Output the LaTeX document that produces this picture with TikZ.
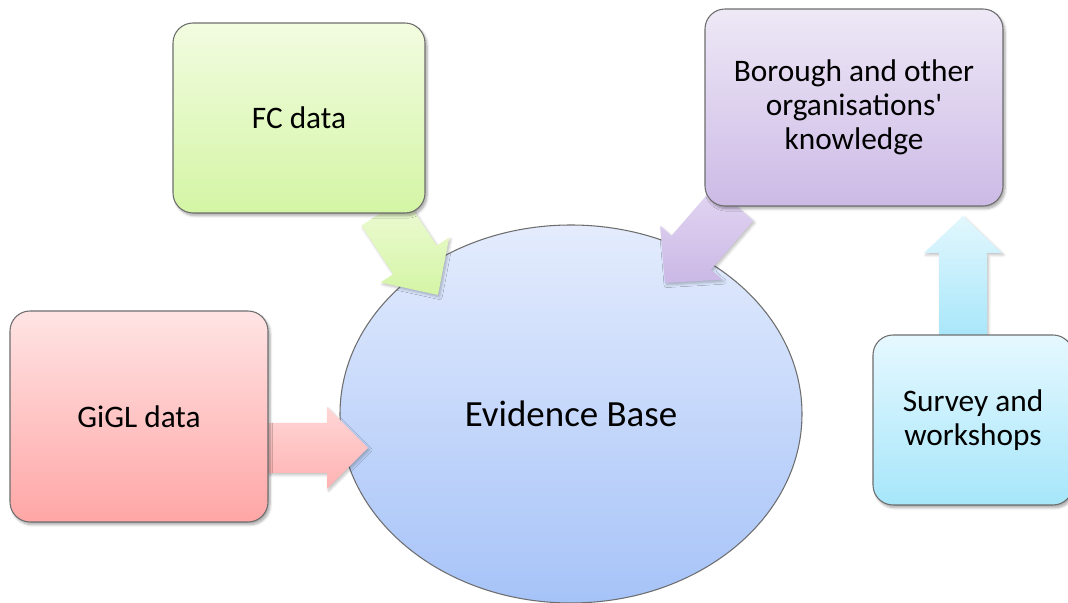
\documentclass[tikz,border=0pt]{standalone}
\usepackage{fontspec}
\setmainfont{Carlito}
\usetikzlibrary{shapes.geometric,shadows.blur}
\definecolor{edgegray}{HTML}{6E6E6E}
\newcommand\blockarr[7]{%
  \begin{scope}[shift={(#1)}, rotate=#2]
    \shade[#7] (0,0) -- (-#4,#5) -- (-#4,#6) -- (-#3,#6) -- (-#3,-#6) -- (-#4,-#6) -- (-#4,-#5) -- cycle;
  \end{scope}}
\tikzset{
  boxnode/.style={rectangle, rounded corners=15pt, draw=edgegray, line width=0.8pt,
    align=center, inner sep=0pt, font=\fontsize{23.5}{25.5}\selectfont,
    blur shadow={shadow xshift=1.5pt, shadow yshift=-2pt, shadow blur steps=6, shadow opacity=35}},
  arrshade/.style={blur shadow={shadow xshift=1.2pt, shadow yshift=-1.5pt, shadow blur steps=5, shadow opacity=25}},
}
\begin{document}
\begin{tikzpicture}[x=0.75pt,y=0.75pt]
\useasboundingbox (0,0) rectangle (1068,603);
\begin{scope}
\clip (0,0) rectangle (1068,603);
% evidence base
\node[ellipse, draw=edgegray, line width=0.8pt, top color={rgb,255:red,228;green,236;blue,253},
  bottom color={rgb,255:red,166;green,195;blue,248}, minimum width=346.5pt, minimum height=283.5pt,
  inner sep=0pt, font=\fontsize{27.7}{30}\selectfont] (eb) at (571,189) {Evidence Base};
% arrows
\coordinate (tipG) at (368,155);
\coordinate (tipF) at (438,308);
\coordinate (tipB) at (665,320);
\coordinate (tipS) at (963,387);
\blockarr{tipG}{0}{100}{41}{41}{25}{arrshade, top color={rgb,255:red,255;green,214;blue,214}, bottom color={rgb,255:red,255;green,178;blue,178}}
\blockarr{tipF}{-56.7}{100}{42}{41}{26}{arrshade, top color={rgb,255:red,238;green,251;blue,214}, bottom color={rgb,255:red,212;green,245;blue,165}}
\blockarr{tipB}{-130.9}{105}{40}{41}{26}{arrshade, top color={rgb,255:red,226;green,214;blue,242}, bottom color={rgb,255:red,203;green,184;blue,230}}
\blockarr{tipS}{90}{125}{37}{39}{24}{arrshade, top color={rgb,255:red,226;green,247;blue,253}, bottom color={rgb,255:red,166;green,230;blue,250}}
% boxes
\node[boxnode, minimum width=189pt, minimum height=142.5pt,
  top color={rgb,255:red,242;green,252;blue,224}, bottom color={rgb,255:red,212;green,245;blue,165}]
  (fc) at (299,485) {FC data};
\node[boxnode, minimum width=223.5pt, minimum height=147.75pt,
  top color={rgb,255:red,238;green,232;blue,246}, bottom color={rgb,255:red,204;green,186;blue,230}]
  (bor) at (854,495.5) {Borough and other\\organisations\textquotesingle\\knowledge};
\node[boxnode, minimum width=193.5pt, minimum height=158.25pt,
  top color={rgb,255:red,255;green,228;blue,228}, bottom color={rgb,255:red,255;green,166;blue,166}]
  (gigl) at (139,186.5) {GiGL data};
\node[boxnode, minimum width=150pt, minimum height=127.5pt,
  top color={rgb,255:red,230;green,248;blue,255}, bottom color={rgb,255:red,166;green,230;blue,250}]
  (sur) at (973,183) {Survey and\\workshops};
\end{scope}
\end{tikzpicture}
\end{document}
